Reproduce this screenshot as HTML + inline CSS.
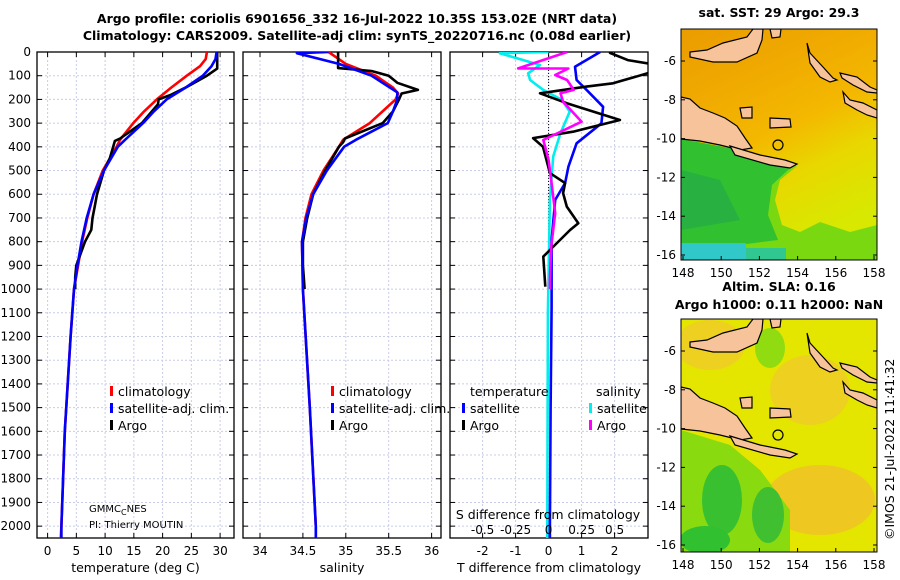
<!DOCTYPE html>
<html><head><meta charset="utf-8"><style>
body{margin:0;background:#fff;}
svg{display:block;font-family:"DejaVu Sans","Liberation Sans",sans-serif;}
</style></head><body>
<svg id="c" width="900" height="580" xmlns="http://www.w3.org/2000/svg"></svg>
<script>
// ---- data ----
const depthTicks=[0,100,200,300,400,500,600,700,800,900,1000,1100,1200,1300,1400,1500,1600,1700,1800,1900,2000];
const tTicks=[0,5,10,15,20,25,30];
const sTicks=[34,34.5,35,35.5,36];
const dTTicks=[-2,-1,0,1,2];
const dSTickLabels=["-0.5","-0.25","0","0.25","0.5"];
const dSTicks=[-0.5,-0.25,0,0.25,0.5];
const tClimZ=[0,30,60,100,150,200,250,300,370,400,500,600,700,800,900,1000,1200,1400,1600,1800,2000,2050];
const tClim=[27.7,27.5,26.5,24.2,21.5,19,16.8,14.9,12.6,12,9.6,8,6.9,6,5.3,4.6,4,3.5,3,2.7,2.4,2.3];
const tSatZ=[0,30,60,100,150,200,250,300,370,400,500,600,700,800,900,1000,1200,1400,1600,1800,2000,2050];
const tSat=[29.4,29.2,28.5,27,24,20.7,18.5,16.6,13.5,12.2,9.8,8,6.8,5.9,5.2,4.6,4,3.5,3,2.7,2.4,2.4];
const tArgoZ=[0,70,100,150,180,200,220,300,365,375,450,500,600,650,700,750,800,900,950,1000];
const tArgo=[29.5,29.5,27.7,24,21.5,19.3,19.2,16.4,12.6,11.7,10.8,9.8,8.6,8.2,7.8,7.6,6.5,5,4.8,4.8];
const sClimZ=[0,50,100,150,175,200,300,370,400,500,600,700,800,1000,1500,2000,2050];
const sClim=[34.8,35.0,35.35,35.55,35.61,35.58,35.28,34.97,34.92,34.74,34.6,34.53,34.49,34.5,34.58,34.65,34.65];
const sSatZ=[0,5,50,100,170,200,250,300,370,400,500,600,700,800,1000,1500,2000,2050];
const sSat=[34.8,34.43,34.92,35.3,35.6,35.6,35.55,35.49,35.12,34.98,34.78,34.62,34.54,34.49,34.5,34.58,34.65,34.65];
const sArgoZ=[0,68,80,100,130,160,175,200,250,300,365,380,400,500,600,700,800,900,1000];
const sArgo=[34.91,34.91,35.3,35.5,35.6,35.84,35.65,35.62,35.55,35.43,34.99,34.97,34.92,34.76,34.62,34.55,34.5,34.5,34.52];
const dTArgoZ=[0,4,34,55,70,90,132,146,174,216,287,336,363,400,511,553,595,652,722,751,835,863,990];
const dTArgo=[1.86,1.86,2.4,3.3,3.3,3.0,1.95,1.15,-0.26,0.55,2.16,0.74,-0.47,-0.17,0.04,0.5,0.44,0.55,0.9,0.65,0.04,-0.16,-0.1];
const dTSatZ=[0,62,118,160,231,301,385,484,553,624,793,1075,1500,2000,2050];
const dTSat=[1.56,0.8,0.85,1.15,1.65,1.6,0.85,0.6,0.5,0.2,0.09,0.09,0.06,0.04,0.04];
const dSSatZ=[0,5,55,90,118,160,202,252,342,441,624,1101,2000,2050];
const dSSat=[0,-0.37,-0.065,-0.155,-0.14,-0.04,0.1,0.16,0.09,0.035,0.01,-0.005,-0.01,-0.01];
const dSArgoZ=[0,69,69.5,97,118,160,174,210,294,371,456,540,680,821,962,1000];
const dSArgo=[0.14,-0.23,0.15,0.05,0.14,0.19,0.09,0.11,0.25,-0.04,0,0.02,0.05,0.02,0.01,0.01];
const latTicks=[-6,-8,-10,-12,-14,-16];
const lonTicks=[148,150,152,154,156,158];

const NS="http://www.w3.org/2000/svg";
const svg=document.getElementById('c');
function el(t,a,p){const e=document.createElementNS(NS,t);for(const k in a)e.setAttribute(k,a[k]);(p||svg).appendChild(e);return e;}
function txt(x,y,s,a,p){const e=el('text',Object.assign({x:x,y:y},a||{}),p);e.textContent=s;return e;}
const Y0=52,Y1=538;
const yD=d=>Y0+d*(Y1-Y0)/2050;
const panels=[{x0:37,x1:234},{x0:243,x1:441},{x0:450,x1:648}];
const xT=v=>47.6+v*5.75;
const xS=v=>260+(v-34)*85.8;
const xDT=v=>548.6+v*33;
const xDS=v=>548.6+v*132;

let t=txt(357,23,"Argo profile: coriolis 6901656_332 16-Jul-2022 10.35S 153.02E (NRT data)",{"text-anchor":"middle","font-size":"12.5","font-weight":"bold"});

t=txt(357,40,"Climatology: CARS2009. Satellite-adj clim: synTS_20220716.nc (0.08d earlier)",{"text-anchor":"middle","font-size":"12.5","font-weight":"bold"});


const defs=el('defs',{});
panels.forEach((P,i)=>{const cp=el('clipPath',{id:'pc'+i},defs);el('rect',{x:P.x0,y:Y0,width:P.x1-P.x0,height:Y1-Y0},cp);});

function panel(i,xf,ticks,labels,xlabel,name){
  const P=panels[i];
  const g=el('g',{});
  
  ticks.forEach(v=>{el('line',{x1:xf(v),x2:xf(v),y1:Y0,y2:Y1,stroke:"#c8cce8","stroke-dasharray":"2,2","stroke-width":1},g);});
  depthTicks.forEach(d=>{el('line',{x1:P.x0,x2:P.x1,y1:yD(d),y2:yD(d),stroke:"#c8cce8","stroke-dasharray":"2,2","stroke-width":1},g);
    el('line',{x1:P.x0,x2:P.x0+5,y1:yD(d),y2:yD(d),stroke:"#000"},g);el('line',{x1:P.x1-5,x2:P.x1,y1:yD(d),y2:yD(d),stroke:"#000"},g);});
  ticks.forEach((v,k)=>{el('line',{x1:xf(v),x2:xf(v),y1:Y1-5,y2:Y1,stroke:"#000"},g);el('line',{x1:xf(v),x2:xf(v),y1:Y0,y2:Y0+5,stroke:"#000"},g);
    const l=txt(xf(v),555,labels[k],{"text-anchor":"middle","font-size":"12"},g);});
  el('rect',{x:P.x0,y:Y0,width:P.x1-P.x0,height:Y1-Y0,fill:"none",stroke:"#000","stroke-width":1.3},g);
  const xl=txt((P.x0+P.x1)/2,572,xlabel,{"text-anchor":"middle","font-size":"12.5"},g);
  
  return g;
}
panel(0,xT,tTicks,tTicks.map(String),"temperature (deg C)","temperature");
panel(1,xS,sTicks,sTicks.map(String),"salinity","salinity");
panel(2,xDT,dTTicks,dTTicks.map(String),"T difference from climatology","difference");
depthTicks.forEach(d=>{const l=txt(31,yD(d)+4,String(d),{"text-anchor":"end","font-size":"12"});});
el('line',{x1:xDT(0),x2:xDT(0),y1:Y0,y2:yD(1000),stroke:"#000","stroke-dasharray":"1,2","stroke-width":1});

function line(zs,vs,xf,color,name,pi){
  const d=zs.map((z,i)=>(i?'L':'M')+xf(vs[i]).toFixed(1)+','+yD(z).toFixed(1)).join('');
  const p=el('path',{d:d,fill:"none",stroke:color,"stroke-width":2.6,"stroke-linejoin":"round","clip-path":"url(#pc"+pi+")"});
  
}
line(tClimZ,tClim,xT,"#f00","temperature-climatology-line",0);
line(tArgoZ,tArgo,xT,"#000","temperature-argo-line",0);
line(tSatZ,tSat,xT,"#00f","temperature-satellite-line",0);
line(sClimZ,sClim,xS,"#f00","salinity-climatology-line",1);
line(sArgoZ,sArgo,xS,"#000","salinity-argo-line",1);
line(sSatZ,sSat,xS,"#00f","salinity-satellite-line",1);
line(dSSatZ,dSSat,xDS,"#0ee","salinity-satellite-diff-line",2);
line(dTSatZ,dTSat,xDT,"#00f","temperature-satellite-diff-line",2);
line(dTArgoZ,dTArgo,xDT,"#000","temperature-argo-diff-line",2);
line(dSArgoZ,dSArgo,xDS,"#f0f","salinity-argo-diff-line",2);

function legend(x,y,items,name){
  const g=el('g',{});
  items.forEach((it,i)=>{const yy=y+i*17;
    if(it[1])el('rect',{x:x,y:yy-10,width:3,height:10,fill:it[1]},g);
    const l=txt(x+(it[1]?8:0),yy,it[0],{"font-size":"12.5"},g);});
}
legend(110,396,[["climatology","#f00"],["satellite-adj. clim.","#00f"],["Argo","#000"]],"temperature-legend");
legend(331,396,[["climatology","#f00"],["satellite-adj. clim.","#00f"],["Argo","#000"]],"salinity-legend");
legend(470,396,[["temperature",null]],"diff-legend-title");
legend(462,413,[["satellite","#00f"],["Argo","#000"]],"diff-temperature-legend");
legend(596,396,[["salinity",null]],"diff-legend-s-title");
legend(589,413,[["satellite","#0ee"],["Argo","#f0f"]],"diff-salinity-legend");
t=txt(548,519,"S difference from climatology",{"text-anchor":"middle","font-size":"12.5"});
dSTicks.forEach((v,k)=>{const l=txt(xDS(v),534,dSTickLabels[k],{"text-anchor":"middle","font-size":"12"});});
t=txt(89,512,"GMMC",{"font-size":"10"});t.innerHTML='GMMC<tspan dy="3" font-size="8">C</tspan><tspan dy="-3">NES</tspan>';
t=txt(89,528,"PI: Thierry MOUTIN",{"font-size":"10"});

// ---- maps ----
const MX0=681,MX1=877;
const lonX=l=>683+(l-148)*19.1;
const landPolys=[
 "690,52 707,50 723,43 747,37 753,29 763,29 762,40 757,53 737,62 713,62 690,57",
 "770,29 781,29 780,37 772,38",
 "681,97 690,99 700,108 713,113 725,118 737,126 745,138 752,148 740,150 720,145 700,141 681,139",
 "730,146 760,155 785,160 797,164 790,168 770,165 735,155",
 "807,43 810,53 823,67 833,78 837,80 830,82 820,77 810,63",
 "840,73 857,77 870,87 877,90 877,93 867,92 853,85 842,78",
 "843,92 850,100 863,103 877,110 877,118 867,115 857,110 845,103",
 "770,118 790,119 791,127 770,128",
 "740,108 752,107 752,118 742,118"];
function map(top,bot,title1,title2,bg,name){
  const latY=la=>top+32+(-6-la)*19.4;
  const g=el('g',{});
  const id=name+'-clip';
  const cp=el('clipPath',{id:id},defs);el('rect',{x:MX0,y:top,width:MX1-MX0,height:bot-top},cp);
  const inner=el('g',{'clip-path':'url(#'+id+')'},g);
  bg(inner);
  const lg=el('g',{transform:'translate(0,'+(top-29)+')'},inner);
  landPolys.forEach(pts=>{el('polygon',{points:pts,fill:"#f7c39b",stroke:"#000","stroke-width":1.2},lg);});
  el('circle',{cx:778,cy:145,r:5,fill:"none",stroke:"#000","stroke-width":1.2},lg);
  el('rect',{x:MX0,y:top,width:MX1-MX0,height:bot-top,fill:"none",stroke:"#000"},g);
  latTicks.forEach(la=>{const l=txt(MX0-5,latY(la)+4,String(la),{"text-anchor":"end","font-size":"12"},g);
    el('line',{x1:MX0,x2:MX0+4,y1:latY(la),y2:latY(la),stroke:"#000"},g);el('line',{x1:MX1-4,x2:MX1,y1:latY(la),y2:latY(la),stroke:"#000"},g);});
  lonTicks.forEach(lo=>{const l=txt(lonX(lo),bot+17,String(lo),{"text-anchor":"middle","font-size":"12"},g);
    el('line',{x1:lonX(lo),x2:lonX(lo),y1:bot-4,y2:bot,stroke:"#000"},g);});
  if(title2){txt(779,top-28,title1,{"text-anchor":"middle","font-size":"12.5","font-weight":"bold"},g);txt(779,top-10,title2,{"text-anchor":"middle","font-size":"12.5","font-weight":"bold"},g);}
  else txt(779,top-12,title1,{"text-anchor":"middle","font-size":"12.5","font-weight":"bold"},g);
}
map(29,260,"sat. SST: 29 Argo: 29.3",null,(g)=>{
  const lg=el('linearGradient',{id:'sstg',x1:0,y1:0,x2:0.4,y2:1},defs);
  [[0,"#ea9c00"],[0.3,"#f0aa00"],[0.55,"#f4b800"],[0.75,"#e8d800"],[1,"#d8e800"]].forEach(s=>el('stop',{offset:s[0],'stop-color':s[1]},lg));
  el('rect',{x:MX0,y:29,width:196,height:231,fill:'url(#sstg)'},g);
  el('polygon',{points:"681,139 740,150 797,166 780,180 775,200 782,225 800,232 820,222 850,232 877,225 877,260 681,260",fill:"#7ad810"},g);
  el('polygon',{points:"681,139 740,150 790,168 772,185 768,215 778,240 700,250 681,250",fill:"#30c030"},g);
  el('polygon',{points:"681,170 720,180 740,220 681,230",fill:"#28b040"},g);
  el('rect',{x:681,y:243,width:65,height:17,fill:"#30c8c8"},g);
  el('rect',{x:746,y:248,width:40,height:12,fill:"#30c890"},g);
},"sst-map");
map(319,552,"Altim. SLA: 0.16","Argo h1000: 0.11 h2000: NaN",(g)=>{
  el('rect',{x:MX0,y:319,width:196,height:233,fill:"#e4e600"},g);
  el('ellipse',{cx:810,cy:390,rx:40,ry:35,fill:"#eed020"},g);
  el('ellipse',{cx:820,cy:500,rx:55,ry:35,fill:"#eec820"},g);
  el('ellipse',{cx:710,cy:345,rx:35,ry:25,fill:"#eed020"},g);
  el('polygon',{points:"681,430 730,445 760,470 790,510 790,552 681,552",fill:"#8ada10"},g);
  el('ellipse',{cx:722,cy:500,rx:20,ry:35,fill:"#38c030"},g);
  el('ellipse',{cx:705,cy:540,rx:25,ry:14,fill:"#30c030"},g);
  el('ellipse',{cx:768,cy:515,rx:16,ry:28,fill:"#40c030"},g);
  el('ellipse',{cx:770,cy:348,rx:15,ry:20,fill:"#90dc10"},g);
},"sla-map");
t=txt(0,0,"©IMOS 21-Jul-2022 11:41:32",{"font-size":"12.5",transform:"translate(894,540) rotate(-90)"});

</script>
</body></html>
